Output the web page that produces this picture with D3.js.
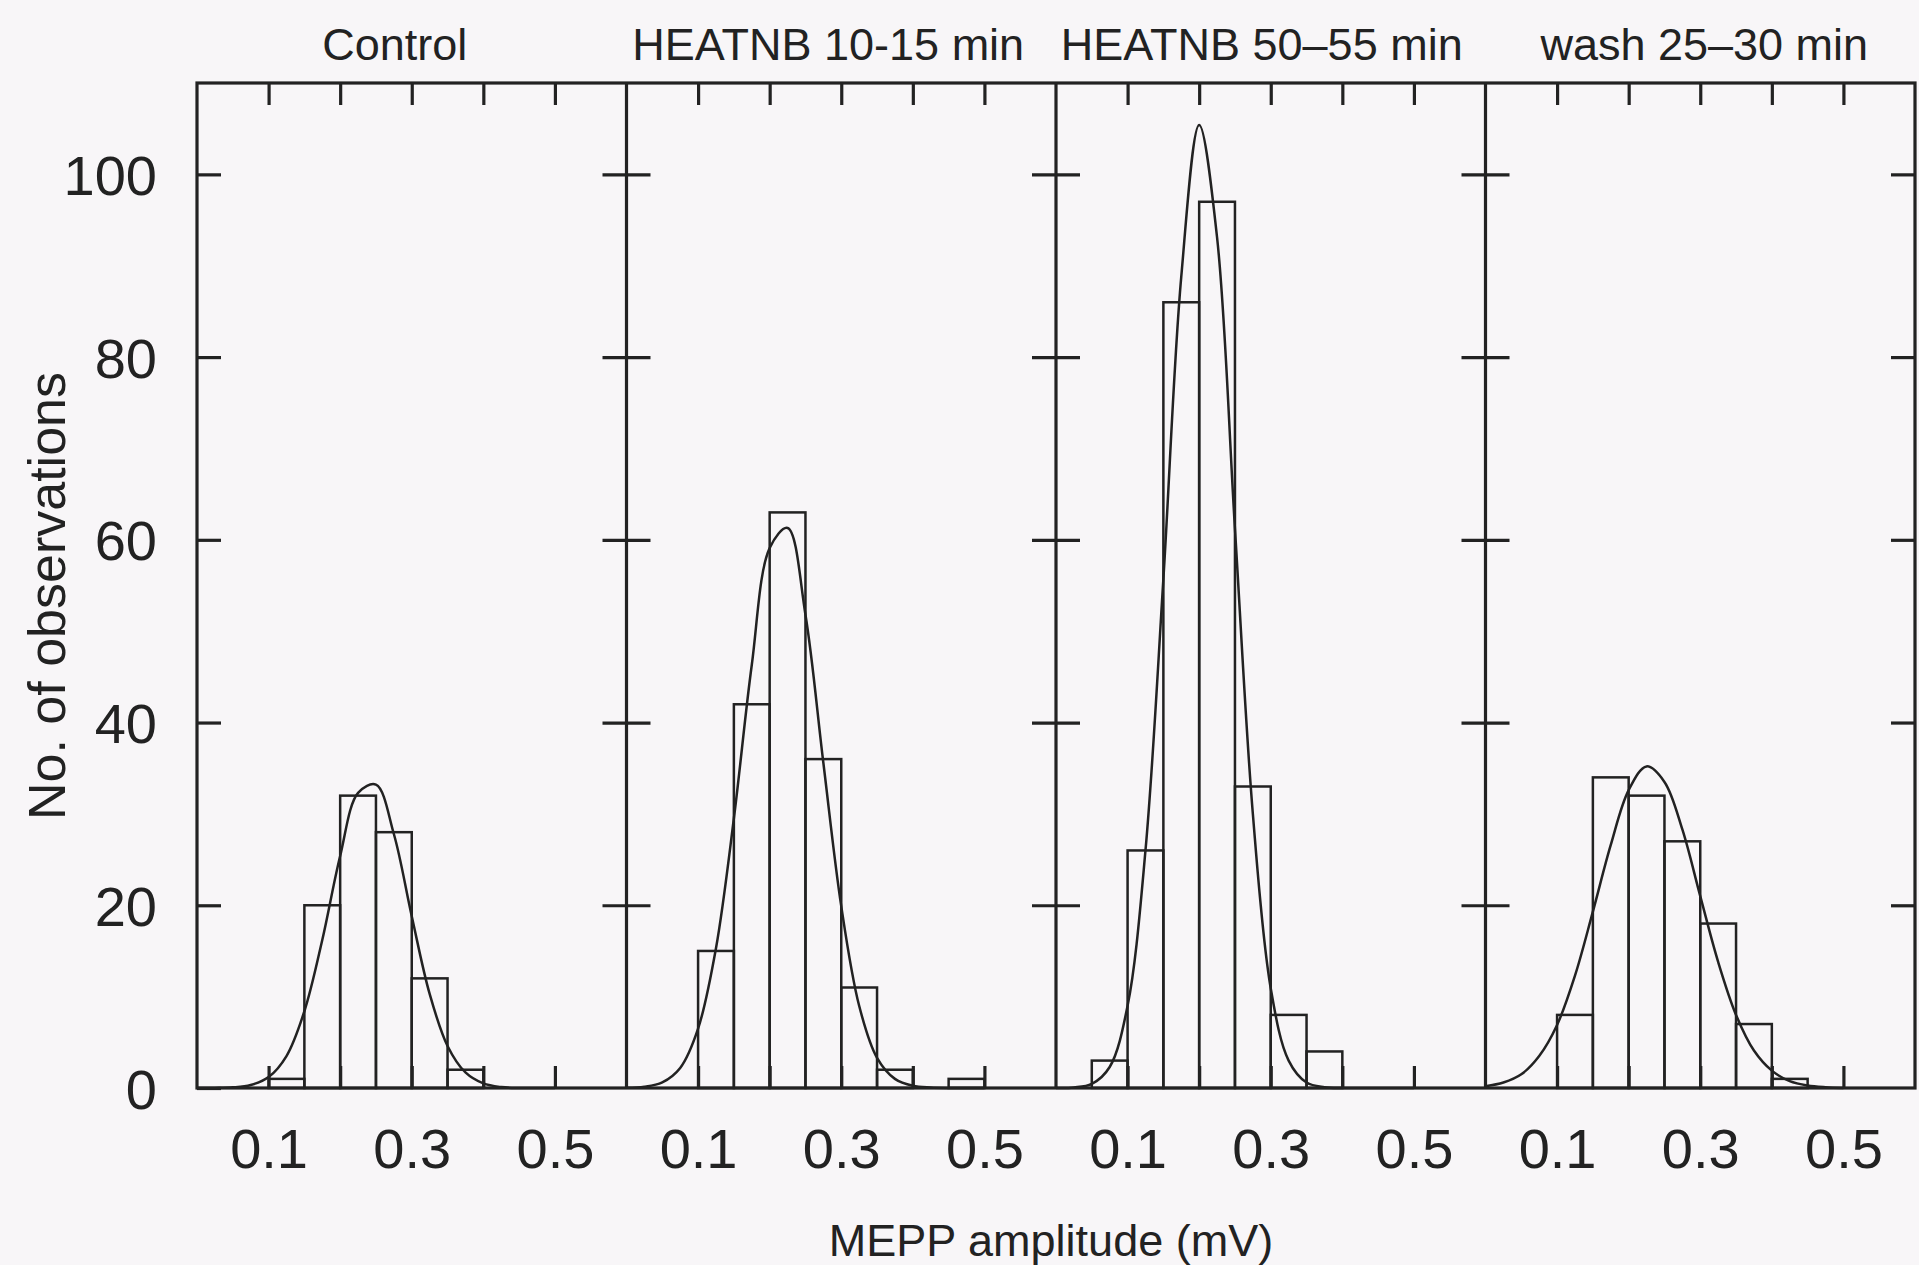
<!DOCTYPE html>
<html>
<head>
<meta charset="utf-8">
<script src="https://cdn.jsdelivr.net/npm/d3@7"></script>
<style>
  html, body { margin: 0; padding: 0; background: #f8f6f8; }
  svg { display: block; }
  text { font-family: "Liberation Sans", Arial, sans-serif; fill: #222; }
</style>
</head>
<body>
<svg id="chart"></svg>
<script>
const width = 1919;
const height = 1265;

// panel titles
const panelTitles = ["Control", "HEATNB 10-15 min", "HEATNB 50\u201355 min", "wash 25\u201330 min"];

// histogram bins (left edge, mV) and counts, bin width 0.05 mV
const binWidth = 0.05;
const controlBins = [0.10, 0.15, 0.20, 0.25, 0.30, 0.35];
const controlCounts = [1, 20, 32, 28, 12, 2];
const heat10Bins = [0.10, 0.15, 0.20, 0.25, 0.30, 0.35, 0.40, 0.45];
const heat10Counts = [15, 42, 63, 36, 11, 2, 0, 1];
const heat50Bins = [0.05, 0.10, 0.15, 0.20, 0.25, 0.30, 0.35];
const heat50Counts = [3, 26, 86, 97, 33, 8, 4];
const washBins = [0.10, 0.15, 0.20, 0.25, 0.30, 0.35, 0.40];
const washCounts = [8, 34, 32, 27, 18, 7, 1];

// fitted curves at these amplitudes
const fitX = [0, 0.025, 0.05, 0.075, 0.1, 0.125, 0.15, 0.175, 0.2, 0.225, 0.25,
              0.275, 0.3, 0.325, 0.35, 0.375, 0.4, 0.425, 0.45, 0.475, 0.5];
const controlFit = [0, 0.01, 0.07, 0.33, 1.2, 3.5, 8.4, 16.2, 25.4, 32.3, 33.2,
                    27.8, 18.8, 10.3, 4.6, 1.7, 0.5, 0.1, 0, 0, 0];
const heat10Fit = [0.03, 0.14, 0.62, 2.2, 6.5, 15.3, 29.5, 46.3, 59.1, 61.3, 51.8,
                   35.6, 19.9, 9.0, 3.3, 1.0, 0.24, 0.05, 0, 0, 0];
const heat50Fit = [0.01, 0.06, 0.45, 2.3, 9.0, 26.0, 55.7, 88.8, 105.4, 93.1, 61.2,
                   30.0, 10.9, 3.0, 0.6, 0.09, 0, 0, 0, 0, 0];
const washFit = [0.2, 0.6, 1.5, 3.5, 6.9, 12.3, 19.3, 26.6, 32.6, 35.2, 33.5,
                 28.3, 21.0, 13.8, 8.0, 4.1, 1.9, 0.75, 0.27, 0.08, 0];

// axis ticks
const xTicks = [0.1, 0.2, 0.3, 0.4, 0.5];
const xLabelTicks = [0.1, 0.3, 0.5];
const yTicks = [0, 20, 40, 60, 80, 100];

const xLabel = "MEPP amplitude (mV)";
const yLabel = "No. of observations";

const panels = [
  { title: panelTitles[0], bins: controlBins, counts: controlCounts, fit: controlFit },
  { title: panelTitles[1], bins: heat10Bins, counts: heat10Counts, fit: heat10Fit },
  { title: panelTitles[2], bins: heat50Bins, counts: heat50Counts, fit: heat50Fit },
  { title: panelTitles[3], bins: washBins, counts: washCounts, fit: washFit }
];

const frameLeft = 197, frameRight = 1915, frameTop = 83, frameBottom = 1088;
const titleShift = [-17, -13, -9, 4];
const ink = "#222";

const svg = d3.select("#chart").attr("width", width).attr("height", height);
svg.append("rect").attr("width", width).attr("height", height).attr("fill", "#f8f6f8");

const y = d3.scaleLinear().domain([0, 110]).range([frameBottom, frameTop]);

const panelScale = d3.scaleBand()
  .domain(d3.range(panels.length))
  .range([frameLeft, frameRight])
  .paddingInner(0).paddingOuter(0);

const line = d3.line().curve(d3.curveCatmullRom.alpha(0.5));

panels.forEach((p, i) => {
  const x0 = panelScale(i);
  const x = d3.scaleLinear().domain([0, 0.6]).range([x0, x0 + panelScale.bandwidth()]);
  const g = svg.append("g");

  // bars
  g.selectAll("rect.bar")
    .data(p.bins.map((b, j) => ({ b: b, c: p.counts[j] })).filter(d => d.c > 0))
    .enter()
    .append("rect")
    .attr("class", "bar")
    .attr("x", d => x(d.b))
    .attr("width", d => x(d.b + binWidth) - x(d.b))
    .attr("y", d => y(d.c))
    .attr("height", d => y(0) - y(d.c))
    .attr("fill", "none")
    .attr("stroke", ink)
    .attr("stroke-width", 2.5);

  // fitted curve
  g.append("path")
    .attr("d", line(fitX.map((v, j) => [x(v), y(p.fit[j])])))
    .attr("fill", "none")
    .attr("stroke", ink)
    .attr("stroke-width", 2.5);

  // top ticks
  const top = g.append("g")
    .attr("transform", `translate(0,${frameTop})`)
    .call(d3.axisTop(x).tickValues(xTicks).tickSize(-22).tickFormat(""));
  top.select(".domain").remove();

  // bottom ticks + labels
  const bottom = g.append("g")
    .attr("transform", `translate(0,${frameBottom})`)
    .call(d3.axisBottom(x).tickValues(xTicks).tickSize(-22)
      .tickFormat(d => xLabelTicks.some(v => Math.abs(v - d) < 1e-9) ? d3.format(".1f")(d) : ""));
  bottom.select(".domain").remove();
  bottom.selectAll(".tick text")
    .attr("y", 80).attr("dy", null)
    .attr("font-size", 56)
    .attr("font-family", "'Liberation Sans', Arial, sans-serif")
    .attr("fill", ink);

  // title
  g.append("text")
    .attr("x", x(0.3) + titleShift[i])
    .attr("y", 60)
    .attr("text-anchor", "middle")
    .attr("font-size", 45)
    .text(p.title);

  // vertical ticks on the divider lines
  if (i > 0) {
    const div = g.append("g")
      .attr("transform", `translate(${x0 - 24},0)`)
      .call(d3.axisRight(y).tickValues(yTicks.slice(1)).tickSize(48).tickFormat(""));
    div.select(".domain").remove();
    g.append("line")
      .attr("x1", x0).attr("x2", x0)
      .attr("y1", frameTop).attr("y2", frameBottom)
      .attr("stroke", ink).attr("stroke-width", 3.2);
  }
});

// left axis with labels
const left = svg.append("g")
  .attr("transform", `translate(${frameLeft},0)`)
  .call(d3.axisLeft(y).tickValues(yTicks).tickSize(-24).tickPadding(40));
left.select(".domain").remove();
left.selectAll(".tick text")
  .attr("font-size", 56)
  .attr("font-family", "'Liberation Sans', Arial, sans-serif")
  .attr("fill", ink)
  .attr("dy", "0.36em");

// right axis ticks
const right = svg.append("g")
  .attr("transform", `translate(${frameRight},0)`)
  .call(d3.axisLeft(y).tickValues(yTicks.slice(1)).tickSize(24).tickFormat(""));
right.select(".domain").remove();

svg.selectAll(".tick line").attr("stroke", ink).attr("stroke-width", 3.2);

// frame
svg.append("rect")
  .attr("x", frameLeft).attr("y", frameTop)
  .attr("width", frameRight - frameLeft).attr("height", frameBottom - frameTop)
  .attr("fill", "none").attr("stroke", ink).attr("stroke-width", 3.2);

// axis labels
svg.append("text")
  .attr("transform", `translate(65,596) rotate(-90)`)
  .attr("text-anchor", "middle")
  .attr("font-size", 52)
  .text(yLabel);

svg.append("text")
  .attr("x", 1051)
  .attr("y", 1256)
  .attr("text-anchor", "middle")
  .attr("font-size", 45)
  .text(xLabel);
</script>
</body>
</html>
